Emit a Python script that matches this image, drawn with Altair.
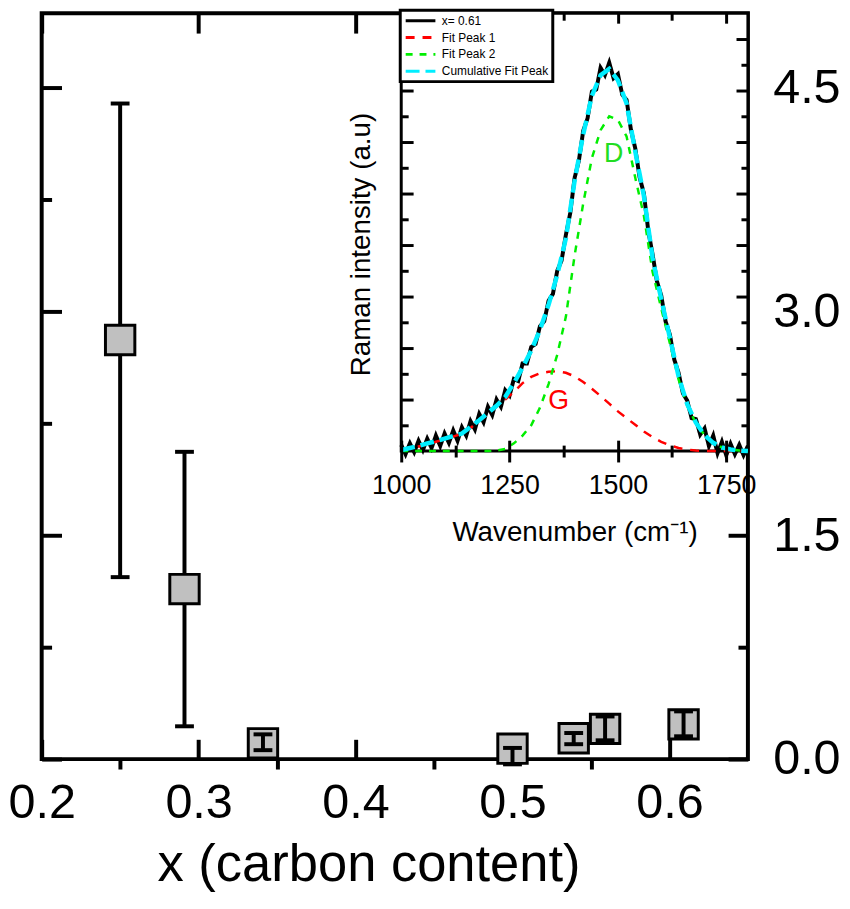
import altair as alt
import pandas as pd

FONT = "Liberation Sans"

# ---------------- main panel ----------------
carbon_x = [0.250, 0.291, 0.341, 0.500, 0.539, 0.559, 0.609]
ratio_y = [2.81, 1.14, 0.106, 0.070, 0.140, 0.203, 0.233]
ratio_lo = [1.22, 0.22, 0.060, -0.035, 0.100, 0.126, 0.153]
ratio_hi = [4.395, 2.06, 0.166, 0.075, 0.175, 0.286, 0.320]

x_domain = [0.2, 0.65]
y_domain = [0.0, 5.0]
x_major = [0.2, 0.3, 0.4, 0.5, 0.6]
x_minor = [0.25, 0.35, 0.45, 0.55]
y_major = [0.0, 1.5, 3.0, 4.5]
y_minor = [0.75, 2.25, 3.75]

# ---------------- inset (Raman spectrum) ----------------
spec_wn = list(range(1000, 1801, 10))
spec_int = [0.12, -0.06, 0.15, -0.02, 0.20, 0.02, 0.24, 0.06, 0.30, 0.10,
            0.34, 0.16, 0.40, 0.20, 0.46, 0.30, 0.58, 0.42, 0.72, 0.56,
            0.86, 0.70, 1.00, 0.86, 1.18, 1.08, 1.40, 1.36, 1.70, 1.70,
            2.02, 2.08, 2.42, 2.52, 2.92, 3.05, 3.50, 3.70, 4.20, 4.62,
            5.30, 5.64, 6.22, 6.46, 6.98, 7.02, 7.44, 7.30, 7.54, 7.24,
            7.32, 6.92, 6.82, 6.24, 5.88, 5.32, 5.00, 4.28, 3.82, 3.30,
            3.02, 2.52, 2.26, 1.78, 1.52, 1.12, 0.98, 0.64, 0.62, 0.32,
            0.44, 0.10, 0.30, -0.04, 0.18, -0.08, 0.14, -0.06, 0.12, -0.08,
            0.10]

fit_wn = list(range(1000, 1801, 20))
fit_g = [0.02, 0.05, 0.09, 0.13, 0.18, 0.23, 0.28, 0.34, 0.45, 0.58,
         0.72, 0.86, 1.00, 1.15, 1.32, 1.44, 1.51, 1.54, 1.55, 1.52,
         1.45, 1.34, 1.21, 1.07, 0.92, 0.77, 0.64, 0.51, 0.38, 0.27,
         0.18, 0.11, 0.06, 0.03, 0.01, 0.00, 0.00, 0.00, 0.00, 0.00,
         0.00]
fit_d = [0.00, 0.00, 0.00, 0.00, 0.00, 0.00, 0.00, 0.00, 0.00, 0.00,
         0.00, 0.01, 0.04, 0.15, 0.30, 0.50, 0.84, 1.30, 1.87, 2.61,
         3.79, 4.81, 5.69, 6.23, 6.50, 6.43, 6.11, 5.31, 4.57, 3.48,
         2.77, 2.09, 1.39, 0.88, 0.54, 0.31, 0.16, 0.07, 0.03, 0.01,
         0.00]
fit_cum = [0.02, 0.06, 0.10, 0.15, 0.19, 0.24, 0.29, 0.34, 0.47, 0.60,
           0.74, 0.88, 1.05, 1.32, 1.62, 1.95, 2.35, 2.84, 3.42, 4.13,
           5.24, 6.15, 6.90, 7.30, 7.42, 7.20, 6.75, 5.82, 4.95, 3.75,
           2.95, 2.20, 1.45, 0.91, 0.55, 0.31, 0.16, 0.07, 0.03, 0.01,
           0.00]

series_names = ["x= 0.61", "Fit Peak 1", "Fit Peak 2", "Cumulative Fit Peak"]
series_colors = ["#000000", "#ff0000", "#00ee00", "#00eeff"]
series_dash = [[1, 0], [9, 8], [7, 7], [14, 6]]

inset_wn_domain = [1000, 1800]
inset_int_domain = [0.0, 8.5]
inset_wn_major = [1000, 1250, 1500, 1750]
inset_wn_minor = [1125, 1375, 1625]
inset_int_major = [1, 2, 3, 4, 5, 6, 7, 8]
inset_int_minor = [0.5, 1.5, 2.5, 3.5, 4.5, 5.5, 6.5, 7.5]

peak_text = ["D", "G"]
peak_wn = [1490, 1363]
peak_int = [5.77, 0.98]
peak_colors = ["#22dd22", "#ff0000"]

# ---------------- data frames ----------------
main_df = pd.DataFrame({"x": carbon_x, "y": ratio_y, "lo": ratio_lo, "hi": ratio_hi})
spec_df = pd.DataFrame({"wn": spec_wn, "v": spec_int, "series": series_names[0]})
g_df = pd.DataFrame({"wn": fit_wn, "v": fit_g, "series": series_names[1]})
d_df = pd.DataFrame({"wn": fit_wn, "v": fit_d, "series": series_names[2]})
c_df = pd.DataFrame({"wn": fit_wn, "v": fit_cum, "series": series_names[3]})
frame_df = pd.DataFrame({"w0": [inset_wn_domain[0]], "w1": [inset_wn_domain[1]],
                         "v0": [inset_int_domain[0]], "v1": [inset_int_domain[1]]})
d_lab = pd.DataFrame({"wn": [peak_wn[0]], "v": [peak_int[0]], "t": [peak_text[0]]})
g_lab = pd.DataFrame({"wn": [peak_wn[1]], "v": [peak_int[1]], "t": [peak_text[1]]})

W, H = 713, 753

xs = alt.Scale(domain=x_domain, nice=False, zero=False)
ys = alt.Scale(domain=y_domain, nice=False, zero=False)


def tick_axis(orient, values, offset, size, width=4, z=0):
    return alt.Axis(orient=orient, values=values, offset=offset, tickSize=size,
                    tickWidth=width, tickColor="black", labels=False, domain=False,
                    grid=False, title=None, zindex=z)


def build(legend_border):
    ax_x_bottom = alt.Axis(orient="bottom", values=x_major, format=".1f", offset=-20,
                           tickSize=20, tickWidth=4, tickColor="black", domain=False,
                           grid=False, labelFontSize=49, labelFont=FONT, labelColor="black",
                           labelPadding=20, labelFlush=False, labelOverlap=False,
                           title="x (carbon content)", titleFontSize=53, titleFont=FONT,
                           titleFontWeight="normal", titleColor="black", titleX=330,
                           titleY=143, titleBaseline="alphabetic", titleAlign="center")
    ax_y_right = alt.Axis(orient="right", values=y_major, format=".1f", offset=-20,
                          tickSize=20, tickWidth=4, tickColor="black", domain=False,
                          grid=False, labelFontSize=49, labelFont=FONT, labelColor="black",
                          labelPadding=25, labelOverlap=False, title=None)

    rule_under = alt.Chart(main_df).mark_rule(color="black", strokeWidth=4).encode(
        x=alt.X("x:Q", scale=xs, axis=ax_x_bottom),
        y=alt.Y("lo:Q", scale=ys, axis=ax_y_right),
        y2="hi:Q",
    )
    squares = alt.Chart(main_df).mark_square(
        size=880, fill="#c0c0c0", stroke="black", strokeWidth=3, opacity=1, fillOpacity=1
    ).encode(
        x=alt.X("x:Q", scale=xs, axis=tick_axis("top", x_major, -20, 20)),
        y=alt.Y("y:Q", scale=ys, axis=tick_axis("left", y_major, -20, 20)),
    )
    rule_over = alt.Chart(main_df).transform_filter("datum.hi - datum.lo < 0.3").mark_rule(
        color="black", strokeWidth=4
    ).encode(
        x=alt.X("x:Q", scale=xs, axis=tick_axis("bottom", x_minor, 0, 10)),
        y=alt.Y("lo:Q", scale=ys, axis=tick_axis("left", y_minor, -10, 10)),
        y2="hi:Q",
    )
    cap_lo = alt.Chart(main_df).mark_tick(orient="horizontal", size=19, thickness=4,
                                          color="black", opacity=1).encode(
        x=alt.X("x:Q", scale=xs, axis=None),
        y=alt.Y("lo:Q", scale=ys, axis=tick_axis("right", y_minor, -10, 10)),
    )
    cap_hi = alt.Chart(main_df).mark_tick(orient="horizontal", size=19, thickness=4,
                                          color="black", opacity=1).encode(
        x=alt.X("x:Q", scale=xs, axis=None),
        y=alt.Y("hi:Q", scale=ys, axis=None),
    )

    main = alt.layer(rule_under, squares, rule_over, cap_lo, cap_hi).resolve_axis(
        x="independent", y="independent")

    wns = alt.Scale(domain=inset_wn_domain, range=[363, 713], nice=False, zero=False)
    vs = alt.Scale(domain=inset_int_domain, range=[442, 0], nice=False, zero=False)

    iax_x_bottom = alt.Axis(orient="bottom", values=inset_wn_major, format="d", offset=-322,
                            tickSize=22, tickWidth=3, tickColor="black", domain=False,
                            grid=False, labelFontSize=27, labelFont=FONT, labelColor="black",
                            labelPadding=11, labelFlush=False, labelOverlap=False,
                            title="Wavenumber (cm\u207b\u00b9)", titleFontSize=28,
                            titleFont=FONT, titleFontWeight="normal", titleColor="black",
                            titleY=101, titleBaseline="alphabetic", zindex=1)
    iax_y_left = alt.Axis(orient="left", values=inset_int_major, offset=-375, tickSize=12,
                          tickWidth=3, tickColor="black", domain=False, grid=False,
                          labels=False, title="Raman intensity (a.u)", titleFontSize=28,
                          titleFont=FONT, titleFontWeight="normal", titleColor="black",
                          titleX=-52, titleY=233, titleAngle=270, titleAlign="center",
                          titleBaseline="middle", zindex=1)

    color_scale = alt.Scale(domain=series_names, range=series_colors)
    dash_scale = alt.Scale(domain=series_names, range=series_dash)

    def mk_legend():
        return alt.Legend(title=None, orient="none", legendX=362, legendY=-3,
                          symbolType="stroke", symbolSize=900, symbolStrokeWidth=3,
                          labelFontSize=12, labelFont=FONT, labelColor="black",
                          strokeColor="black", fillColor="white", padding=4,
                          rowPadding=4, clipHeight=13, labelOffset=5, zindex=3)

    def enc_series():
        return dict(
            color=alt.Color("series:N", scale=color_scale, legend=mk_legend()),
            strokeDash=alt.StrokeDash("series:N", scale=dash_scale, legend=mk_legend()),
        )

    frame = alt.Chart(frame_df).mark_rect(fill="white", stroke="black", strokeWidth=3).encode(
        x=alt.X("w0:Q", scale=wns, axis=iax_x_bottom),
        x2="w1:Q",
        y=alt.Y("v0:Q", scale=vs, axis=iax_y_left),
        y2="v1:Q",
    )
    black = alt.Chart(spec_df).mark_line(strokeWidth=4).encode(
        x=alt.X("wn:Q", scale=wns, axis=tick_axis("bottom", inset_wn_minor, -317, 12, 3, 1)),
        y=alt.Y("v:Q", scale=vs, axis=tick_axis("left", inset_int_minor, -370, 7, 3, 1)),
        **enc_series(),
    )
    red = alt.Chart(g_df).mark_line(strokeWidth=2.5).encode(
        x=alt.X("wn:Q", scale=wns, axis=tick_axis("top", inset_wn_major[1:], -10, 10, 3, 1)),
        y=alt.Y("v:Q", scale=vs, axis=tick_axis("right", inset_int_major, -12, 12, 3, 1)),
        **enc_series(),
    )
    green = alt.Chart(d_df).mark_line(strokeWidth=2.5).encode(
        x=alt.X("wn:Q", scale=wns, axis=tick_axis("top", inset_wn_minor, -7, 7, 3, 1)),
        y=alt.Y("v:Q", scale=vs, axis=tick_axis("right", inset_int_minor, -7, 7, 3, 1)),
        **enc_series(),
    )
    cyan = alt.Chart(c_df).mark_line(strokeWidth=4.5).encode(
        x=alt.X("wn:Q", scale=wns, axis=None),
        y=alt.Y("v:Q", scale=vs, axis=None),
        **enc_series(),
    )
    d_text = alt.Chart(d_lab).mark_text(fontSize=27, font=FONT, color=peak_colors[0]).encode(
        x=alt.X("wn:Q", scale=wns, axis=None), y=alt.Y("v:Q", scale=vs, axis=None), text="t:N")
    g_text = alt.Chart(g_lab).mark_text(fontSize=27, font=FONT, color=peak_colors[1]).encode(
        x=alt.X("wn:Q", scale=wns, axis=None), y=alt.Y("v:Q", scale=vs, axis=None), text="t:N")

    inset = alt.layer(frame, black, red, green, cyan, d_text, g_text).resolve_axis(
        x="independent", y="independent")

    ch = alt.layer(main, inset).resolve_scale(
        x="independent", y="independent"
    ).properties(
        width=W, height=H,
        padding={"left": 34, "top": 1, "right": 95, "bottom": 147},
        autosize=alt.AutoSizeParams(type="none"),
        background="white",
    ).configure_view(
        stroke="black", strokeWidth=4
    ).configure_axis(
        labelFont=FONT, titleFont=FONT
    )
    if legend_border:
        ch = ch.configure_legend(strokeWidth=3)
    return ch


try:
    chart = build(True)
    chart.to_dict()
except Exception:
    chart = build(False)

chart.save("out.html", embed_options={"renderer": "svg", "actions": False})
